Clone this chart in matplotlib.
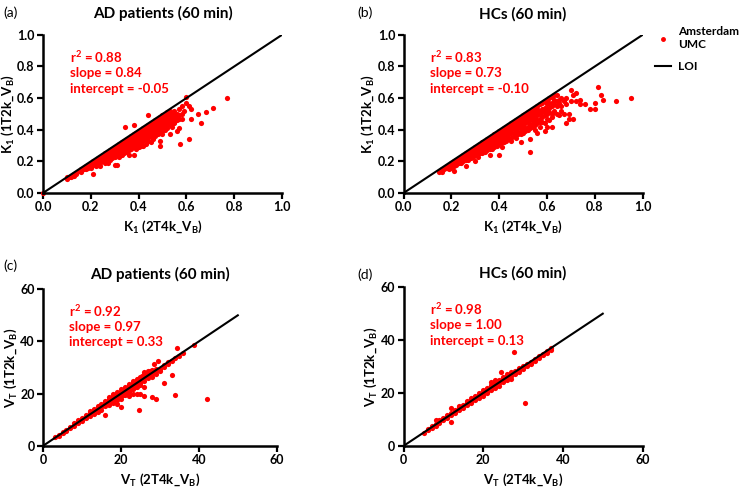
import matplotlib
matplotlib.use("Agg")
import matplotlib.pyplot as plt
from matplotlib.lines import Line2D
import numpy as np

# K1 values, AD patients (x = 2T4k_VB, y = 1T2k_VB)
k1_ad = [
    (0.0, 0.0), (0.10, 0.09), (0.10, 0.10), (0.11, 0.10), (0.115, 0.10), (0.12, 0.11),
    (0.13, 0.11), (0.13, 0.12), (0.14, 0.12), (0.15, 0.14), (0.16, 0.13), (0.16, 0.15),
    (0.17, 0.15), (0.17, 0.16), (0.18, 0.15), (0.18, 0.17), (0.19, 0.16), (0.19, 0.18),
    (0.20, 0.16), (0.20, 0.17), (0.20, 0.19), (0.21, 0.12), (0.21, 0.18), (0.21, 0.20),
    (0.22, 0.17), (0.22, 0.19), (0.22, 0.21), (0.23, 0.18), (0.23, 0.20), (0.23, 0.22),
    (0.24, 0.17), (0.24, 0.19), (0.24, 0.21), (0.24, 0.23), (0.25, 0.20), (0.25, 0.22),
    (0.25, 0.24), (0.26, 0.19), (0.26, 0.21), (0.26, 0.23), (0.26, 0.25), (0.27, 0.19),
    (0.27, 0.22), (0.27, 0.24), (0.27, 0.26), (0.28, 0.21), (0.28, 0.23), (0.28, 0.25),
    (0.28, 0.27), (0.29, 0.22), (0.29, 0.24), (0.29, 0.26), (0.29, 0.28), (0.30, 0.18),
    (0.30, 0.23), (0.30, 0.25), (0.30, 0.27), (0.30, 0.29), (0.31, 0.18), (0.31, 0.24),
    (0.31, 0.26), (0.31, 0.28), (0.31, 0.30), (0.32, 0.23), (0.32, 0.25), (0.32, 0.27),
    (0.32, 0.29), (0.32, 0.31), (0.33, 0.24), (0.33, 0.26), (0.33, 0.28), (0.33, 0.30),
    (0.33, 0.32), (0.34, 0.25), (0.34, 0.27), (0.34, 0.29), (0.34, 0.31), (0.34, 0.33),
    (0.345, 0.42), (0.35, 0.26), (0.35, 0.28), (0.35, 0.30), (0.35, 0.32), (0.35, 0.34),
    (0.36, 0.24), (0.36, 0.27), (0.36, 0.29), (0.36, 0.31), (0.36, 0.33), (0.36, 0.35),
    (0.37, 0.28), (0.37, 0.30), (0.37, 0.32), (0.37, 0.34), (0.37, 0.36), (0.38, 0.24),
    (0.38, 0.29), (0.38, 0.31), (0.38, 0.33), (0.38, 0.35), (0.38, 0.37), (0.38, 0.43),
    (0.39, 0.28), (0.39, 0.30), (0.39, 0.32), (0.39, 0.34), (0.39, 0.36), (0.39, 0.38),
    (0.40, 0.29), (0.40, 0.31), (0.40, 0.33), (0.40, 0.35), (0.40, 0.37), (0.40, 0.39),
    (0.41, 0.30), (0.41, 0.32), (0.41, 0.34), (0.41, 0.36), (0.41, 0.38), (0.41, 0.40),
    (0.42, 0.30), (0.42, 0.33), (0.42, 0.35), (0.42, 0.37), (0.42, 0.39), (0.42, 0.41),
    (0.43, 0.31), (0.43, 0.34), (0.43, 0.36), (0.43, 0.38), (0.43, 0.40), (0.43, 0.42),
    (0.44, 0.33), (0.44, 0.35), (0.44, 0.37), (0.44, 0.39), (0.44, 0.41), (0.44, 0.43),
    (0.44, 0.49), (0.45, 0.32), (0.45, 0.36), (0.45, 0.38), (0.45, 0.40), (0.45, 0.42),
    (0.45, 0.44), (0.46, 0.34), (0.46, 0.37), (0.46, 0.39), (0.46, 0.41), (0.46, 0.43),
    (0.46, 0.45), (0.47, 0.36), (0.47, 0.38), (0.47, 0.40), (0.47, 0.42), (0.47, 0.44),
    (0.47, 0.46), (0.48, 0.37), (0.48, 0.39), (0.48, 0.41), (0.48, 0.43), (0.48, 0.45),
    (0.48, 0.47), (0.49, 0.30), (0.49, 0.33), (0.49, 0.38), (0.49, 0.40), (0.49, 0.42),
    (0.49, 0.44), (0.49, 0.46), (0.49, 0.48), (0.50, 0.37), (0.50, 0.39), (0.50, 0.41),
    (0.50, 0.43), (0.50, 0.45), (0.50, 0.47), (0.50, 0.49), (0.51, 0.40), (0.51, 0.42),
    (0.51, 0.44), (0.51, 0.46), (0.51, 0.48), (0.51, 0.50), (0.52, 0.41), (0.52, 0.43),
    (0.52, 0.45), (0.52, 0.47), (0.52, 0.49), (0.52, 0.51), (0.53, 0.37), (0.53, 0.43),
    (0.53, 0.45), (0.53, 0.47), (0.53, 0.49), (0.53, 0.52), (0.54, 0.42), (0.54, 0.44),
    (0.54, 0.46), (0.54, 0.48), (0.54, 0.50), (0.55, 0.44), (0.55, 0.45), (0.55, 0.47),
    (0.55, 0.49), (0.55, 0.52), (0.56, 0.39), (0.56, 0.46), (0.56, 0.48), (0.56, 0.50),
    (0.57, 0.41), (0.57, 0.47), (0.57, 0.49), (0.57, 0.53), (0.575, 0.31), (0.58, 0.47),
    (0.58, 0.50), (0.58, 0.55), (0.59, 0.52), (0.60, 0.57), (0.60, 0.61), (0.61, 0.34),
    (0.61, 0.55), (0.62, 0.47), (0.62, 0.53), (0.65, 0.50), (0.66, 0.44), (0.68, 0.51),
    (0.71, 0.54), (0.77, 0.60),
]

# K1 values, healthy controls
k1_hc = [
    (0.15, 0.13), (0.16, 0.13), (0.16, 0.15), (0.17, 0.15), (0.18, 0.16), (0.18, 0.17),
    (0.19, 0.15), (0.19, 0.17), (0.20, 0.16), (0.20, 0.18), (0.20, 0.19), (0.21, 0.14),
    (0.21, 0.17), (0.21, 0.19), (0.21, 0.20), (0.22, 0.18), (0.22, 0.20), (0.22, 0.21),
    (0.23, 0.19), (0.23, 0.21), (0.23, 0.22), (0.24, 0.19), (0.24, 0.21), (0.24, 0.23),
    (0.25, 0.20), (0.25, 0.22), (0.25, 0.24), (0.26, 0.17), (0.26, 0.21), (0.26, 0.23),
    (0.26, 0.25), (0.27, 0.21), (0.27, 0.22), (0.27, 0.24), (0.27, 0.26), (0.28, 0.22),
    (0.28, 0.24), (0.28, 0.25), (0.28, 0.27), (0.29, 0.23), (0.29, 0.25), (0.29, 0.26),
    (0.29, 0.28), (0.30, 0.20), (0.30, 0.24), (0.30, 0.26), (0.30, 0.27), (0.30, 0.29),
    (0.31, 0.23), (0.31, 0.25), (0.31, 0.27), (0.31, 0.28), (0.31, 0.30), (0.32, 0.25),
    (0.32, 0.26), (0.32, 0.28), (0.32, 0.29), (0.32, 0.31), (0.33, 0.25), (0.33, 0.27),
    (0.33, 0.29), (0.33, 0.30), (0.33, 0.32), (0.34, 0.26), (0.34, 0.28), (0.34, 0.30),
    (0.34, 0.31), (0.34, 0.33), (0.35, 0.27), (0.35, 0.29), (0.35, 0.31), (0.35, 0.32),
    (0.35, 0.34), (0.36, 0.24), (0.36, 0.28), (0.36, 0.30), (0.36, 0.32), (0.36, 0.33),
    (0.36, 0.35), (0.37, 0.28), (0.37, 0.31), (0.37, 0.33), (0.37, 0.34), (0.37, 0.36),
    (0.38, 0.29), (0.38, 0.31), (0.38, 0.33), (0.38, 0.35), (0.38, 0.37), (0.39, 0.30),
    (0.39, 0.32), (0.39, 0.34), (0.39, 0.36), (0.39, 0.38), (0.40, 0.24), (0.40, 0.31),
    (0.40, 0.33), (0.40, 0.35), (0.40, 0.37), (0.40, 0.39), (0.41, 0.29), (0.41, 0.32),
    (0.41, 0.34), (0.41, 0.36), (0.41, 0.38), (0.41, 0.40), (0.42, 0.32), (0.42, 0.35),
    (0.42, 0.37), (0.42, 0.39), (0.42, 0.41), (0.43, 0.33), (0.43, 0.35), (0.43, 0.36),
    (0.43, 0.38), (0.43, 0.40), (0.43, 0.42), (0.44, 0.34), (0.44, 0.37), (0.44, 0.39),
    (0.44, 0.41), (0.44, 0.43), (0.45, 0.33), (0.45, 0.35), (0.45, 0.38), (0.45, 0.40),
    (0.45, 0.42), (0.45, 0.44), (0.46, 0.36), (0.46, 0.38), (0.46, 0.41), (0.46, 0.43),
    (0.46, 0.45), (0.47, 0.35), (0.47, 0.37), (0.47, 0.40), (0.47, 0.42), (0.47, 0.44),
    (0.47, 0.46), (0.48, 0.37), (0.48, 0.38), (0.48, 0.41), (0.48, 0.43), (0.48, 0.45),
    (0.48, 0.47), (0.49, 0.32), (0.49, 0.37), (0.49, 0.39), (0.49, 0.42), (0.49, 0.44),
    (0.49, 0.46), (0.49, 0.48), (0.50, 0.38), (0.50, 0.40), (0.50, 0.43), (0.50, 0.45),
    (0.50, 0.47), (0.50, 0.49), (0.51, 0.39), (0.51, 0.41), (0.51, 0.44), (0.51, 0.46),
    (0.51, 0.48), (0.51, 0.50), (0.52, 0.40), (0.52, 0.42), (0.52, 0.45), (0.52, 0.47),
    (0.52, 0.49), (0.52, 0.51), (0.53, 0.26), (0.53, 0.34), (0.53, 0.41), (0.53, 0.43),
    (0.53, 0.46), (0.53, 0.48), (0.53, 0.50), (0.53, 0.52), (0.54, 0.42), (0.54, 0.44),
    (0.54, 0.47), (0.54, 0.49), (0.54, 0.51), (0.54, 0.53), (0.55, 0.40), (0.55, 0.43),
    (0.55, 0.45), (0.55, 0.48), (0.55, 0.50), (0.55, 0.52), (0.55, 0.54), (0.56, 0.38),
    (0.56, 0.44), (0.56, 0.46), (0.56, 0.49), (0.56, 0.51), (0.56, 0.53), (0.56, 0.55),
    (0.57, 0.42), (0.57, 0.45), (0.57, 0.47), (0.57, 0.50), (0.57, 0.52), (0.57, 0.56),
    (0.58, 0.45), (0.58, 0.48), (0.58, 0.51), (0.58, 0.53), (0.58, 0.57), (0.59, 0.39),
    (0.59, 0.44), (0.59, 0.49), (0.59, 0.52), (0.59, 0.54), (0.59, 0.58), (0.60, 0.42),
    (0.60, 0.47), (0.60, 0.50), (0.60, 0.53), (0.60, 0.56), (0.60, 0.59), (0.61, 0.46),
    (0.61, 0.51), (0.61, 0.54), (0.61, 0.57), (0.61, 0.60), (0.62, 0.42), (0.62, 0.48),
    (0.62, 0.50), (0.62, 0.55), (0.62, 0.57), (0.62, 0.61), (0.63, 0.52), (0.63, 0.56),
    (0.63, 0.59), (0.63, 0.62), (0.64, 0.50), (0.64, 0.55), (0.64, 0.58), (0.64, 0.62),
    (0.65, 0.49), (0.65, 0.57), (0.65, 0.59), (0.66, 0.52), (0.66, 0.55), (0.66, 0.60),
    (0.67, 0.50), (0.67, 0.58), (0.68, 0.44), (0.68, 0.56), (0.68, 0.60), (0.69, 0.47),
    (0.69, 0.50), (0.70, 0.58), (0.70, 0.65), (0.71, 0.47), (0.71, 0.62), (0.72, 0.58),
    (0.72, 0.63), (0.74, 0.56), (0.74, 0.59), (0.76, 0.56), (0.78, 0.53), (0.80, 0.53),
    (0.80, 0.57), (0.815, 0.67), (0.825, 0.62), (0.835, 0.59), (0.89, 0.58), (0.95, 0.60),
]

# VT values, AD patients
vt_ad = [
    (3, 3.2), (4, 3.8), (4, 4.3), (5, 4.8), (5, 5.3), (6, 5.6), (6, 6.2), (7, 6.8),
    (7, 7.4), (8, 7.5), (8, 8.2), (8, 8.8), (9, 8.6), (9, 9.3), (9, 9.9), (10, 9.4),
    (10, 10.1), (10, 10.8), (11, 10.5), (11, 11.2), (11, 11.9), (12, 11.3), (12, 12.1),
    (12, 12.8), (12, 13.3), (13, 12.2), (13, 13.0), (13, 13.7), (13, 14.2), (14, 13.1),
    (14, 13.9), (14, 14.6), (14, 15.2), (15, 13.8), (15, 14.7), (15, 15.5), (15, 16.1),
    (16, 11.8), (16, 15.2), (16, 15.9), (16, 16.6), (16, 17.2), (17, 15.6), (17, 16.5),
    (17, 17.3), (17, 18.1), (17, 18.8), (18, 16.4), (18, 17.3), (18, 18.2), (18, 19.0),
    (18, 19.7), (19, 16.0), (19, 17.5), (19, 18.4), (19, 19.2), (19, 20.0), (19, 20.7),
    (20, 14.8), (20, 18.1), (20, 19.0), (20, 19.9), (20, 20.8), (20, 21.6), (21, 19.4),
    (21, 19.8), (21, 20.4), (21, 21.2), (21, 22.0), (21, 22.6), (22, 19.0), (22, 20.7),
    (22, 21.4), (22, 22.2), (22, 23.0), (22, 23.6), (23, 19.8), (23, 21.6), (23, 22.4),
    (23, 23.2), (23, 24.0), (23, 24.8), (24, 19.7), (24, 22.5), (24, 23.3), (24, 24.1),
    (24, 24.9), (24, 25.7), (24.6, 13.8), (25, 20.0), (25, 23.2), (25, 24.1), (25, 25.0),
    (25, 25.8), (25, 26.5), (26, 19.1), (26, 22.5), (26, 24.8), (26, 25.8), (26, 26.6),
    (26, 27.4), (26, 28.3), (27, 25.8), (27, 26.7), (27, 27.6), (27, 28.5), (28, 18.8),
    (28, 26.5), (28, 27.5), (28, 28.4), (28, 29.2), (29, 17.8), (29, 27.6), (29, 28.5),
    (29, 29.5), (28.5, 31.4), (30, 28.6), (30, 29.6), (29.5, 32.4), (31, 23.9),
    (31, 30.2), (31, 31.0), (32, 31.5), (32, 32.3), (33, 27.0), (33, 32.5), (34, 19.4),
    (34, 33.5), (34.3, 37.3), (35, 34.6), (36, 35.5), (38.7, 38.7), (42, 18.0),
    (16.5, 16.8), (17.5, 17.9), (18.5, 19.1), (19.5, 20.1), (20.5, 21.2), (21.5, 22.3),
    (22.5, 23.4), (23.5, 24.5), (24.5, 25.5), (25.5, 26.6), (26.5, 27.5), (27.5, 28.6),
    (19.5, 18.6), (20.5, 19.6), (21.5, 20.5), (22.5, 21.6), (23.5, 22.4), (24.5, 23.4),
]

# VT values, healthy controls
vt_hc = [
    (5, 5.0), (6, 5.8), (6, 6.3), (7, 6.7), (7, 7.2), (7, 7.6), (8, 7.6), (8, 8.2),
    (8, 9.8), (9, 8.5), (9, 9.1), (9, 9.6), (10, 9.6), (10, 10.1), (10, 10.6), (11, 10.5),
    (11, 11.1), (11, 11.6), (12, 9.0), (12, 11.5), (12, 12.0), (12, 12.5), (12, 14.5),
    (13, 12.4), (13, 13.0), (13, 13.5), (14, 13.4), (14, 14.0), (14, 14.6), (14, 15.0),
    (15, 14.4), (15, 15.0), (15, 15.6), (16, 15.3), (16, 15.9), (16, 16.5), (16, 17.0),
    (17, 16.3), (17, 16.9), (17, 17.5), (17, 18.0), (18, 17.2), (18, 17.8), (18, 18.4),
    (18, 19.0), (19, 18.2), (19, 18.8), (19, 19.4), (19, 20.0), (20, 19.0), (20, 19.7),
    (20, 20.4), (20, 21.0), (21, 20.0), (21, 20.7), (21, 21.4), (21, 22.0), (22, 21.0),
    (22, 21.7), (22, 22.4), (22, 23.0), (22, 24.3), (23, 22.0), (23, 22.6), (23, 23.3),
    (23, 24.0), (23, 24.8), (24, 22.8), (24, 23.6), (24, 24.3), (24, 25.0), (24.5, 28.1),
    (25, 24.0), (25, 24.6), (25, 25.3), (25, 26.0), (26, 24.8), (26, 25.5), (26, 26.3),
    (26, 27.0), (27, 25.3), (27, 26.5), (27, 27.3), (27, 28.0), (27.8, 35.5), (28, 27.0),
    (28, 27.6), (28, 28.3), (29, 28.0), (29, 28.6), (29, 29.3), (30, 29.0), (30, 29.6),
    (30, 30.3), (30.5, 16.2), (31, 30.2), (31, 30.8), (32, 31.0), (32, 31.8), (33, 32.1),
    (33, 32.8), (34, 33.2), (34, 33.8), (35, 34.2), (35, 34.8), (36, 35.2), (36, 35.8),
    (37, 36.3), (37, 37.0),
]

titles = ["AD patients (60 min)", "HCs (60 min)", "AD patients (60 min)", "HCs (60 min)"]
panel_tags = ["(a)", "(b)", "(c)", "(d)"]
stats = [
    ["0.88", "0.84", "-0.05"],
    ["0.83", "0.73", "-0.10"],
    ["0.92", "0.97", "0.33"],
    ["0.98", "1.00", "0.13"],
]

plt.rcParams["font.family"] = ["Lato", "DejaVu Sans"]
plt.rcParams["font.weight"] = "bold"
plt.rcParams["mathtext.fontset"] = "custom"
plt.rcParams["mathtext.rm"] = "Lato:bold"
plt.rcParams["mathtext.it"] = "Lato:bold"
plt.rcParams["mathtext.bf"] = "Lato:bold"
plt.rcParams["mathtext.default"] = "rm"

RED = "#ff0000"

fig = plt.figure(figsize=(7.42, 4.91), dpi=100)
rects = [
    [0.058, 0.607, 0.322, 0.322],
    [0.544, 0.607, 0.322, 0.322],
    [0.058, 0.092, 0.315, 0.319],
    [0.544, 0.092, 0.322, 0.323],
]
datasets = [k1_ad, k1_hc, vt_ad, vt_hc]

for i, (rect, pts) in enumerate(zip(rects, datasets)):
    ax = fig.add_axes(rect)
    xs, ys = np.array(pts).T
    ax.scatter(xs, ys, s=14, color=RED, linewidths=0, zorder=2, clip_on=False)
    if i < 2:
        lim = 1.0
        ax.plot([0, 1], [0, 1], color="black", lw=1.5, zorder=3)
        ax.set_xticks(np.arange(0, 1.01, 0.2))
        ax.set_yticks(np.arange(0, 1.01, 0.2))
        ax.xaxis.set_major_formatter(plt.FormatStrFormatter("%.1f"))
        ax.yaxis.set_major_formatter(plt.FormatStrFormatter("%.1f"))
        xl, yl = r"$K_1\ (2T4k\_V_B)$", r"$K_1\ (1T2k\_V_B)$"
        title_pad = 12
    else:
        lim = 60
        ax.plot([0, 50], [0, 50], color="black", lw=1.5, zorder=3)
        ax.set_xticks([0, 20, 40, 60])
        ax.set_yticks([0, 20, 40, 60])
        xl, yl = r"$V_T\ (2T4k\_V_B)$", r"$V_T\ (1T2k\_V_B)$"
        title_pad = 7
    ax.set_xlabel(xl, fontsize=9.5, labelpad=4)
    ax.set_ylabel(yl, fontsize=9.5, labelpad=1)
    ax.set_xlim(0, lim)
    ax.set_ylim(0, lim)
    ax.set_title(titles[i], fontsize=11, fontweight="bold", pad=title_pad)
    for side in ["top", "right"]:
        ax.spines[side].set_visible(False)
    for side in ["left", "bottom"]:
        ax.spines[side].set_linewidth(1.8)
    ax.tick_params(width=1.6, length=4, labelsize=9, pad=2)
    for lab in ax.get_xticklabels() + ax.get_yticklabels():
        lab.set_fontweight("bold")

    r2, slope, icpt = stats[i]
    tx = 0.112
    ax.text(tx, 0.86, r"r$^2$ = " + r2, transform=ax.transAxes, color=RED,
            fontsize=9.5, fontweight="bold", va="center")
    ax.text(tx, 0.76, "slope = " + slope, transform=ax.transAxes, color=RED,
            fontsize=9.5, fontweight="bold", va="center")
    ax.text(tx, 0.66, "intercept = " + icpt, transform=ax.transAxes, color=RED,
            fontsize=9.5, fontweight="bold", va="center")

tag_pos = [(0.005, 0.975), (0.482, 0.975), (0.005, 0.458), (0.482, 0.44)]
for tag, (px, py) in zip(panel_tags, tag_pos):
    fig.text(px, py, tag, fontsize=10, fontweight="normal", va="center")

handles = [
    Line2D([], [], marker="o", ls="none", color=RED, markersize=2.5),
    Line2D([], [], color="black", lw=1.5),
]
fig.legend(handles, ["Amsterdam\nUMC", "LOI"], loc="upper left",
           bbox_to_anchor=(0.868, 0.968), frameon=False,
           handlelength=1.4, handletextpad=0.6, labelspacing=0.9,
           prop={"weight": "bold", "size": 8.5})

fig.savefig("out.png", dpi=100)
